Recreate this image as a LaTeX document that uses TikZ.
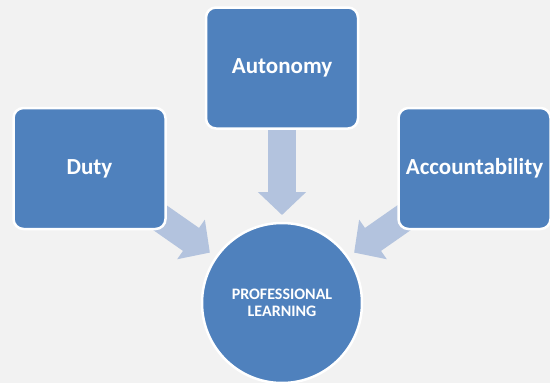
\documentclass[tikz,border=0pt]{standalone}
\usepackage{fontspec}
\setmainfont{Carlito}
\usetikzlibrary{arrows.meta}
\definecolor{boxblue}{HTML}{4F81BD}
\definecolor{arrowblue}{HTML}{B3C3DE}
\definecolor{paper}{HTML}{F2F2F2}
\pgfdeclarelayer{behind}
\pgfsetlayers{behind,main}
\begin{document}
\begin{tikzpicture}[x=1pt,y=-1pt,
  topic/.style={rectangle, rounded corners=10pt, fill=boxblue, draw=white,
    line width=2.5pt, minimum width=152pt, minimum height=121pt,
    text=white, font=\bfseries\fontsize{23}{27}\selectfont, inner sep=0pt},
  hub/.style={circle, fill=boxblue, draw=white, line width=2.5pt,
    minimum size=160pt, text=white, align=center,
    font=\bfseries\fontsize{16}{16.6}\selectfont, inner sep=0pt},
  feed/.style={arrowblue, line width=28pt,
    -{Triangle[width=47pt,length=23pt]}, shorten >=88pt}]
  \useasboundingbox (0,0) rectangle (550,383);

  \node[topic] (duty) at (89.5,168.5) {Duty};
  \node[topic] (autonomy) at (282,68) {Autonomy};
  \node[topic] (account) at (474.5,168.5) {Accountability};
  \node[hub] (learning) at (282,303) {PROFESSIONAL\\LEARNING};

  \begin{pgfonlayer}{behind}
    \fill[paper] (0,0) rectangle (550,383);
    \draw[feed] (duty.center) -- (learning.center);
    \draw[feed] (autonomy.center) -- (learning.center);
    \draw[feed] (account.center) -- (learning.center);
  \end{pgfonlayer}
\end{tikzpicture}
\end{document}
